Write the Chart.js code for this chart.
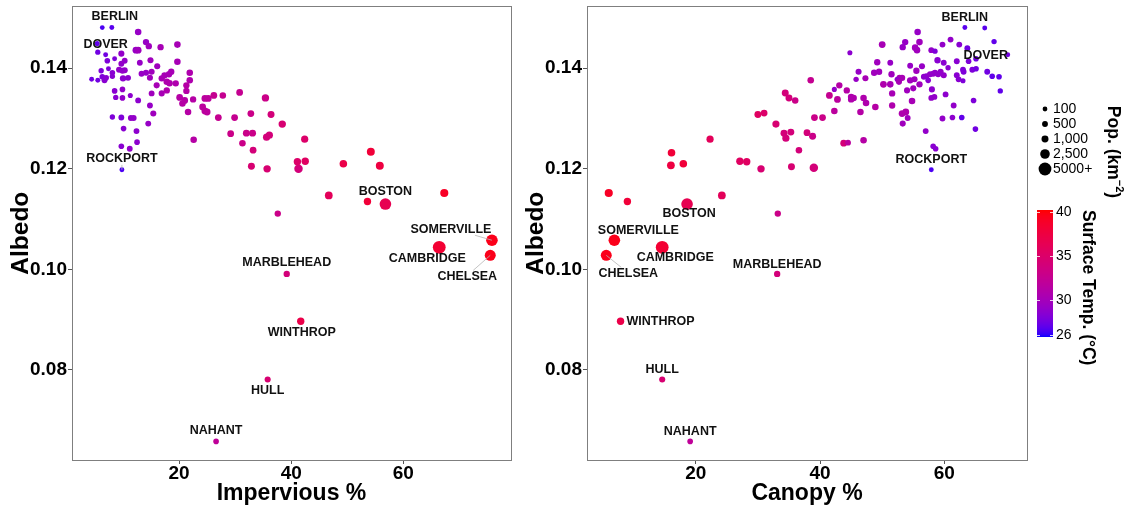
<!DOCTYPE html>
<html>
<head>
<meta charset="utf-8">
<script src="https://cdn.jsdelivr.net/npm/chart.js@4.4.1/dist/chart.umd.min.js"></script>
<style>
  html, body { margin: 0; padding: 0; background: #fff; }
  #wrap { position: relative; width: 1131px; height: 510px; }
  #wrap canvas { position: absolute; left: 0; top: 0; }
</style>
</head>
<body>
<div id="wrap">
  <canvas id="impChart" width="1131" height="510"></canvas>
  <canvas id="canChart" width="1131" height="510"></canvas>
</div>
<script>
// ---- Named towns (shared by both panels) ----
const townNames   = ['BERLIN', 'DOVER', 'ROCKPORT', 'BOSTON', 'SOMERVILLE', 'CAMBRIDGE', 'CHELSEA', 'MARBLEHEAD', 'WINTHROP', 'HULL', 'NAHANT'];
const townImperv  = [8.0, 6.9, 9.8, 56.8, 75.8, 66.4, 75.5, 39.2, 41.7, 35.8, 26.6];
const townCanopy  = [63.3, 70.2, 57.9, 18.6, 6.9, 14.6, 5.6, 33.1, 7.9, 14.6, 19.1];
const townAlbedo  = [0.1481, 0.1427, 0.1198, 0.1130, 0.1058, 0.1044, 0.1028, 0.0991, 0.0897, 0.0781, 0.0658];
const townTemp    = [26.8, 27.5, 26.5, 36.5, 39.5, 38.3, 39.5, 34.0, 37.0, 34.5, 32.0];
const townPop     = [150, 150, 150, 4000, 4000, 6500, 3500, 700, 1200, 600, 400];

// ---- Other towns, impervious panel ----
const impervious = [6.3,12.7,5.4,14.1,14.6,16.7,19.7,12.3,12.7,5.5,9.7,7.2,8.5,10.3,9.7,13.0,14.9,19.7,16.1,6.1,7.4,8.1,9.3,9.9,10.3,13.3,14.1,15.1,16.9,17.4,18.2,18.6,21.9,4.4,5.5,6.3,6.7,7.0,8.1,10.0,10.9,14.8,16.0,17.8,18.3,19.4,21.9,21.3,8.5,9.9,15.1,16.9,17.8,21.3,8.7,9.9,11.3,12.7,20.1,21.0,20.6,22.5,24.6,25.2,26.2,27.8,30.8,35.4,14.8,21.6,24.2,24.6,25.0,15.4,27.0,29.9,32.8,36.4,38.4,8.1,9.7,11.4,11.9,14.5,10.1,12.4,29.2,32.0,33.1,35.6,36.1,22.6,31.3,9.7,11.2,12.5,33.2,32.9,35.7,42.4,41.3,41.1,42.5,49.3,54.2,55.8,46.7,37.6,53.6,67.3];
const impAlbedo  = [0.1481,0.1472,0.1449,0.1452,0.1444,0.1442,0.1447,0.1436,0.1436,0.1432,0.1429,0.1415,0.1419,0.1415,0.1409,0.1411,0.1416,0.1413,0.1404,0.1395,0.1399,0.1391,0.1397,0.1395,0.1396,0.1389,0.1391,0.1393,0.1380,0.1386,0.1388,0.1393,0.1391,0.1378,0.1376,0.1383,0.1376,0.1381,0.1384,0.1380,0.1381,0.1381,0.1366,0.1373,0.1370,0.1370,0.1376,0.1366,0.1355,0.1358,0.1350,0.1350,0.1356,0.1355,0.1342,0.1341,0.1346,0.1336,0.1342,0.1336,0.1330,0.1338,0.1340,0.1340,0.1346,0.1346,0.1352,0.1341,0.1326,0.1313,0.1323,0.1315,0.1313,0.1310,0.1302,0.1302,0.1310,0.1308,0.1289,0.1303,0.1302,0.1301,0.1301,0.1290,0.1280,0.1275,0.1270,0.1271,0.1271,0.1263,0.1267,0.1258,0.1251,0.1245,0.1240,0.1253,0.1237,0.1205,0.1200,0.1259,0.1200,0.1214,0.1215,0.1210,0.1234,0.1206,0.1147,0.1111,0.1135,0.1152];
const impTemp    = [26.5,29.2,27,29.2,29.7,30.2,30.2,29.2,29.7,27.5,29,28,28,29,29,29.2,29.7,30.2,29.7,28,28,28.5,29,29,29,29.2,29.2,29.7,30.2,30.2,30.2,30.2,30.7,27.5,27.5,28,28.5,28.5,28.5,28.7,28.7,29.7,30.2,30.7,30.7,30.7,30.7,31.2,28.5,29,29.7,30.2,30.7,31.2,28.5,29,28.7,28.7,31.2,31.2,31.2,31.2,31.7,31.7,32.5,32.5,32.5,33,29.2,31.2,31.7,31.7,31.7,29.7,32.5,32.5,33,34,34.5,28,28,29,29,29.2,28.5,28.7,33,33,33,34,34,31.2,33,28.5,29,28.7,34,34.5,34.5,35,34,35,35.5,37,38,37.5,36,33,38,39];
const impPop     = [100,800,200,700,700,700,800,900,900,250,600,400,150,500,500,500,600,800,600,300,150,400,600,600,600,500,600,600,700,700,700,700,800,150,150,400,500,400,300,700,500,600,600,800,800,700,800,700,400,400,500,600,700,700,300,400,200,500,900,900,800,700,900,900,900,800,900,1200,500,800,900,900,900,600,900,900,900,1000,1200,300,500,500,500,500,400,500,900,1000,1000,1100,1100,800,800,400,500,400,900,1000,1200,1100,1800,1200,1200,1300,1500,1500,1400,700,1200,1600];

// ---- Other towns, canopy panel ----
const canopy     = [66.5,55.7,50.0,53.7,53.3,56.0,55.3,55.6,59.7,61.0,62.4,63.7,68.0,44.8,57.9,58.5,49.2,51.3,58.9,59.9,62.0,63.9,65.1,54.5,56.4,55.5,60.6,63.0,63.1,64.5,65.1,66.9,67.7,68.8,46.2,48.7,49.5,51.5,52.8,53.2,52.4,45.8,47.3,50.2,51.3,52.7,54.5,55.2,56.0,56.7,57.1,57.7,58.2,58.5,59.0,59.4,59.9,57.4,62.0,62.3,63.0,38.5,42.3,43.1,44.3,41.5,42.8,45.0,45.4,45.0,47.0,47.4,51.6,54.0,55.0,58.0,57.9,58.4,60.2,69.0,54.8,64.7,48.9,51.6,61.5,42.3,46.5,53.2,53.8,54.1,39.1,40.4,59.7,61.3,62.8,53.3,37.9,38.8,57.0,65.0,43.8,44.5,47.0,58.2,58.6,36.6,39.0,34.4,35.0,36.0,30.0,31.0,32.9,34.2,35.3,34.5,22.3,18.0,27.1,28.2,30.5,35.4,24.2,16.1,16.0,6.0,9.0,33.2];
const canAlbedo  = [0.1480,0.1472,0.1447,0.1452,0.1442,0.1452,0.1441,0.1436,0.1447,0.1457,0.1447,0.1440,0.1453,0.1431,0.1436,0.1434,0.1412,0.1411,0.1416,0.1411,0.1414,0.1414,0.1419,0.1405,0.1404,0.1395,0.1401,0.1397,0.1393,0.1397,0.1399,0.1393,0.1384,0.1383,0.1393,0.1391,0.1393,0.1388,0.1381,0.1381,0.1378,0.1378,0.1380,0.1368,0.1368,0.1373,0.1376,0.1378,0.1368,0.1383,0.1384,0.1388,0.1389,0.1391,0.1388,0.1393,0.1386,0.1376,0.1386,0.1378,0.1375,0.1376,0.1358,0.1366,0.1356,0.1346,0.1338,0.1343,0.1341,0.1338,0.1341,0.1331,0.1350,0.1356,0.1360,0.1358,0.1341,0.1343,0.1348,0.1355,0.1335,0.1336,0.1323,0.1326,0.1326,0.1315,0.1313,0.1310,0.1313,0.1301,0.1302,0.1302,0.1300,0.1302,0.1302,0.1290,0.1272,0.1265,0.1275,0.1279,0.1251,0.1252,0.1257,0.1245,0.1240,0.1237,0.1202,0.1351,0.1341,0.1336,0.1308,0.1311,0.1289,0.1271,0.1273,0.1261,0.1259,0.1210,0.1215,0.1214,0.1200,0.1204,0.1147,0.1232,0.1207,0.1152,0.1135,0.1111];
const canTemp    = [26.8,29.2,30.2,29.2,29.2,29.7,29.7,29.7,29,29,28.5,27.5,27,28.7,29,28,29.7,29.2,28.5,28.5,28.5,28,27.5,29.2,29.2,29.7,28.5,28,28,28,27.5,27.5,27,27,29.2,29.7,29.7,29.7,30.2,30.2,29,29.2,30.2,30.7,30.2,30.2,29.7,29.7,29.7,28.7,28.7,29,29,29,29,29,29,28.5,28.5,28.5,28,32.5,29,31.2,31.2,32.5,31.7,30.7,30.7,30.7,30.7,30.7,30.2,29.7,29.7,28.7,29,29,28.7,27,30.2,28,31.2,30.7,29,31.7,31.2,30.7,30.7,29.7,33,33,29,28.7,27,29.7,34,33,29,27.5,34,31.7,31.2,28.5,28.5,34,34,34,34,33,35.5,35,34.5,34,34,34,36,38,35.5,35.5,34.5,34.5,36,38,37.5,39,38,33];
const canPop     = [150,800,900,700,700,800,800,800,500,500,500,500,300,200,500,300,700,500,700,500,500,400,400,500,600,700,300,500,500,500,400,500,400,400,600,700,700,700,700,700,200,300,600,900,800,600,700,600,700,500,500,600,600,600,600,600,600,400,500,500,200,800,200,700,700,900,900,800,800,700,800,800,700,600,600,600,500,500,500,300,800,400,800,700,500,800,800,900,900,500,900,900,500,400,400,600,900,1000,500,400,900,500,800,400,400,800,1800,1000,1000,800,1000,900,1100,1000,1000,1100,1100,1300,1200,1200,1200,1000,1400,1300,1400,1600,1200,700];

// ---- Axes, legend keys ----
const albedoTicks      = [0.08, 0.10, 0.12, 0.14];
const albedoTickLabels = ['0.08', '0.10', '0.12', '0.14'];
const pctTicks         = [20, 40, 60];
const pctTickLabels    = ['20', '40', '60'];
const popBreaks        = [100, 500, 1000, 2500, 5000];
const popBreakLabels   = ['100', '500', '1,000', '2,500', '5000+'];
const tempBreaks       = [26, 30, 35, 40];
const tempLimits       = [25.77, 40.23];

// ---- Colour: blue -> red interpolated in CIE Lab ----
function toLin(c) { c /= 255; return c <= 0.04045 ? c / 12.92 : Math.pow((c + 0.055) / 1.055, 2.4); }
function fromLin(c) { const v = c <= 0.0031308 ? 12.92 * c : 1.055 * Math.pow(c, 1 / 2.4) - 0.055; return Math.round(Math.max(0, Math.min(1, v)) * 255); }
const WX = 0.95047, WY = 1.0, WZ = 1.08883;
function rgbToLab(rgb) {
  const r = toLin(rgb[0]), g = toLin(rgb[1]), b = toLin(rgb[2]);
  const X = (0.4124564 * r + 0.3575761 * g + 0.1804375 * b) / WX;
  const Y = (0.2126729 * r + 0.7151522 * g + 0.0721750 * b) / WY;
  const Z = (0.0193339 * r + 0.1191920 * g + 0.9503041 * b) / WZ;
  const f = t => t > 216 / 24389 ? Math.cbrt(t) : (24389 / 27 * t + 16) / 116;
  const fx = f(X), fy = f(Y), fz = f(Z);
  return [116 * fy - 16, 500 * (fx - fy), 200 * (fy - fz)];
}
function labToRgb(lab) {
  const fy = (lab[0] + 16) / 116, fx = fy + lab[1] / 500, fz = fy - lab[2] / 200;
  const inv = t => { const t3 = t * t * t; return t3 > 216 / 24389 ? t3 : (116 * t - 16) / (24389 / 27); };
  const X = inv(fx) * WX, Y = inv(fy) * WY, Z = inv(fz) * WZ;
  const r = 3.2404542 * X - 1.5371385 * Y - 0.4985314 * Z;
  const g = -0.9692660 * X + 1.8760108 * Y + 0.0415560 * Z;
  const b = 0.0556434 * X - 0.2040259 * Y + 1.0572252 * Z;
  return [fromLin(r), fromLin(g), fromLin(b)];
}
const labLow = rgbToLab([0, 0, 255]), labHigh = rgbToLab([255, 0, 0]);
function tempColor(t) {
  const u = Math.max(0, Math.min(1, (t - tempLimits[0]) / (tempLimits[1] - tempLimits[0])));
  const c = labToRgb([0, 1, 2].map(k => labLow[k] + (labHigh[k] - labLow[k]) * u));
  return `rgb(${c[0]},${c[1]},${c[2]})`;
}
function popRadius(p) { return Math.sqrt(5 + 0.0072 * Math.min(p, 5000)); }

const FONT = '"Liberation Sans", Arial, Helvetica, sans-serif';

// Grey frame round each panel
const panelFrame = {
  id: 'panelFrame',
  afterDatasetsDraw(chart) {
    const { ctx, chartArea: a } = chart;
    ctx.save();
    ctx.strokeStyle = '#7f7f7f';
    ctx.lineWidth = 1;
    ctx.strokeRect(Math.round(a.left) + 0.5, Math.round(a.top) + 0.5, Math.round(a.right - a.left), Math.round(a.bottom - a.top));
    ctx.restore();
  }
};

// Town names placed next to their points, with optional leader segments
const townLabels = {
  id: 'townLabels',
  afterDatasetsDraw(chart, args, opts) {
    const { ctx } = chart;
    const meta = chart.getDatasetMeta(1);
    ctx.save();
    ctx.font = `bold 12.5px ${FONT}`;
    ctx.textBaseline = 'middle';
    (opts.place || []).forEach((p, i) => {
      const el = meta.data[i];
      if (!el) return;
      if (p.seg) {
        ctx.strokeStyle = '#b5b5b5';
        ctx.lineWidth = 0.8;
        ctx.beginPath();
        ctx.moveTo(el.x + p.seg[0], el.y + p.seg[1]);
        ctx.lineTo(el.x, el.y);
        ctx.stroke();
      }
      ctx.fillStyle = '#111';
      ctx.textAlign = p.align || 'center';
      ctx.fillText(townNames[i], el.x + p.dx, el.y + p.dy);
    });
    ctx.restore();
  }
};

// Population size key and surface temperature colour bar
const sideLegend = {
  id: 'sideLegend',
  afterDraw(chart) {
    const { ctx } = chart;
    ctx.save();
    // size key
    const rowY = [109, 124, 139, 154, 169];
    ctx.font = `14px ${FONT}`;
    ctx.textAlign = 'left';
    ctx.textBaseline = 'middle';
    popBreaks.forEach((p, i) => {
      ctx.fillStyle = '#000';
      ctx.beginPath();
      ctx.arc(1045, rowY[i], popRadius(p), 0, Math.PI * 2);
      ctx.fill();
      ctx.fillText(popBreakLabels[i], 1053, rowY[i] + 0.5);
    });
    // size key title, rotated
    ctx.save();
    ctx.translate(1113, 152);
    ctx.rotate(Math.PI / 2);
    const big = `bold 17.5px ${FONT}`, small = `bold 11px ${FONT}`;
    ctx.font = big; const w1 = ctx.measureText('Pop. (km').width, w3 = ctx.measureText(')').width;
    ctx.font = small; const w2 = ctx.measureText('\u22122').width;
    const x0 = -(w1 + w2 + w3) / 2;
    ctx.fillStyle = '#000';
    ctx.textBaseline = 'middle';
    ctx.font = big; ctx.fillText('Pop. (km', x0, 0);
    ctx.font = small; ctx.fillText('\u22122', x0 + w1, -6);
    ctx.font = big; ctx.fillText(')', x0 + w1 + w2, 0);
    ctx.restore();

    // colour bar
    const bx = 1037, bw = 16, yTop = 210, yBot = 337;
    const tToY = t => yBot - (t - tempLimits[0]) / (tempLimits[1] - tempLimits[0]) * (yBot - yTop);
    for (let y = yTop; y < yBot; y++) {
      const t = tempLimits[0] + (yBot - y - 0.5) / (yBot - yTop) * (tempLimits[1] - tempLimits[0]);
      ctx.fillStyle = tempColor(t);
      ctx.fillRect(bx, y, bw, 1);
    }
    ctx.strokeStyle = 'rgba(255,255,255,0.8)';
    ctx.lineWidth = 1;
    ctx.font = `14px ${FONT}`;
    ctx.fillStyle = '#000';
    tempBreaks.forEach(t => {
      const y = Math.round(tToY(t)) + 0.5;
      ctx.beginPath();
      ctx.moveTo(bx, y); ctx.lineTo(bx + 3, y);
      ctx.moveTo(bx + bw - 3, y); ctx.lineTo(bx + bw, y);
      ctx.stroke();
      ctx.fillText(String(t), 1056, y);
    });
    // colour bar title, rotated
    ctx.save();
    ctx.translate(1088, 210);
    ctx.rotate(Math.PI / 2);
    ctx.font = `bold 17.5px ${FONT}`;
    ctx.textAlign = 'left';
    ctx.textBaseline = 'middle';
    ctx.fillText('Surface Temp. (\u00b0C)', 0, 0);
    ctx.restore();
    ctx.restore();
  }
};

function panel(canvasId, xs, ys, temps, pops, townXs, xTitle, xMin, xMax, padding, place, extraPlugins) {
  return new Chart(document.getElementById(canvasId), {
    type: 'scatter',
    data: {
      datasets: [
        {
          data: xs.map((x, i) => ({ x, y: ys[i] })),
          pointBackgroundColor: temps.map(tempColor),
          pointRadius: pops.map(popRadius),
          pointHoverRadius: pops.map(popRadius),
          pointBorderWidth: 0,
          order: 2
        },
        {
          data: townXs.map((x, i) => ({ x, y: townAlbedo[i] })),
          pointBackgroundColor: townTemp.map(tempColor),
          pointRadius: townPop.map(popRadius),
          pointHoverRadius: townPop.map(popRadius),
          pointBorderWidth: 0,
          order: 1
        }
      ]
    },
    options: {
      responsive: false,
      animation: false,
      devicePixelRatio: 1,
      events: [],
      layout: { padding },
      plugins: {
        legend: { display: false },
        tooltip: { enabled: false },
        townLabels: { place }
      },
      scales: {
        x: {
          type: 'linear', min: xMin, max: xMax,
          afterBuildTicks: s => { s.ticks = pctTicks.map(v => ({ value: v })); },
          afterFit: s => { s.height = 50; s.paddingLeft = 0; s.paddingRight = 0; },
          grid: { drawOnChartArea: false, drawTicks: true, tickLength: 4, color: '#555' },
          border: { display: false },
          ticks: {
            color: '#000', padding: 0, maxRotation: 0,
            font: { family: FONT, size: 19, weight: 'bold', lineHeight: 1 },
            callback: (v, i) => pctTickLabels[i]
          },
          title: {
            display: true, text: xTitle, color: '#000',
            font: { family: FONT, size: 23, weight: 'bold', lineHeight: 1.2 },
            padding: { top: 0, bottom: 3 }
          }
        },
        y: {
          type: 'linear', min: 0.0621, max: 0.1523,
          afterBuildTicks: s => { s.ticks = albedoTicks.map(v => ({ value: v })); },
          afterFit: s => { s.width = 72; s.paddingTop = 0; s.paddingBottom = 0; },
          grid: { drawOnChartArea: false, drawTicks: true, tickLength: 4, color: '#555' },
          border: { display: false },
          ticks: {
            color: '#000', padding: 1,
            font: { family: FONT, size: 19, weight: 'bold', lineHeight: 1 },
            callback: (v, i) => albedoTickLabels[i]
          },
          title: {
            display: true, text: 'Albedo', color: '#000',
            font: { family: FONT, size: 24.5, weight: 'bold', lineHeight: 1.2 },
            padding: { top: 7, bottom: 0 }
          }
        }
      }
    },
    plugins: [panelFrame, townLabels].concat(extraPlugins || [])
  });
}

// Label placement (pixel offsets from each town's point)
const impPlace = [
  { dx: 3, dy: -11 },
  { dx: 0, dy: -10 },
  { dx: 0, dy: -11, seg: [0, -5] },
  { dx: 0, dy: -12 },
  { dx: -41, dy: -11, seg: [-17, -5] },
  { dx: -12, dy: 11 },
  { dx: -23, dy: 21, seg: [-17, 15] },
  { dx: 0, dy: -11 },
  { dx: 1, dy: 11 },
  { dx: 0, dy: 11 },
  { dx: 0, dy: -11 }
];
const canPlace = [
  { dx: 0, dy: -10 },
  { dx: -22, dy: 1 },
  { dx: 0, dy: -10 },
  { dx: 2, dy: 10 },
  { dx: 24, dy: -10 },
  { dx: 13, dy: 10 },
  { dx: 22, dy: 18, seg: [15, 12] },
  { dx: 0, dy: -9 },
  { dx: 6, dy: 0, align: 'left' },
  { dx: 0, dy: -10 },
  { dx: 0, dy: -10 }
];

panel('impChart', impervious, impAlbedo, impTemp, impPop, townImperv, 'Impervious %', 0.9, 79.2,
  { left: 0, right: 620, top: 6, bottom: 0 }, impPlace);
panel('canChart', canopy, canAlbedo, canTemp, canPop, townCanopy, 'Canopy %', 2.5, 73.3,
  { left: 515, right: 104, top: 6, bottom: 0 }, canPlace, [sideLegend]);
</script>
</body>
</html>
